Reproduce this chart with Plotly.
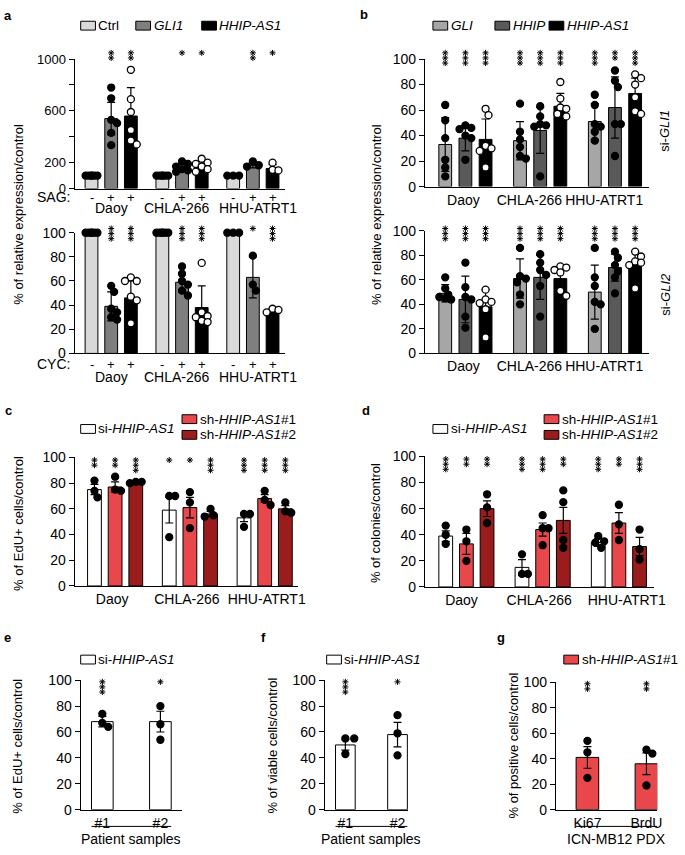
import plotly.graph_objects as go

W, H = 685, 855
FONT = "Liberation Sans, Arial, Helvetica, sans-serif"

# ---------------- data ----------------
cell_lines = ["Daoy", "CHLA-266", "HHU-ATRT1"]

# panel a (top: SAG, bottom: CYC); rows = cell line, cols = Ctrl / GLI1 / HHIP-AS1
a_series = ["Ctrl", "<i>GLI1</i>", "<i>HHIP-AS1</i>"]
a_signs = ["-", "+", "+"]
a_sag_mean = [[100, 540, 560], [100, 160, 175], [100, 180, 155]]
a_sag_err = [[0, 125, 220], [0, 30, 35], [0, 20, 30]]
a_sag_pts = [
    [[100] * 6, [780, 697, 530, 505, 430, 335], [917, 690, 591, 452, 371, 341]],
    [[100] * 6, [210, 190, 170, 150, 140, 130], [230, 200, 190, 170, 150, 130]],
    [[100] * 3, [210, 180, 170], [200, 145, 140]],
]
a_sag_stars = [["", "**", "**"], ["", "*", "*"], ["", "**", "*"]]

a_cyc_mean = [[100, 39, 46], [100, 59, 38], [100, 63, 35]]
a_cyc_err = [[0, 12, 14], [0, 8, 18], [0, 17, 2]]
a_cyc_pts = [
    [[100] * 6, [56, 51, 37, 34, 30, 28], [63, 60, 60, 47, 44, 25]],
    [[100] * 6, [72, 66, 60, 57, 52, 48], [75, 34, 31, 30, 27, 26]],
    [[100] * 3, [81, 57, 52], [37, 36, 34]],
]
a_cyc_stars = [["", "***", "***"], ["", "***", "***"], ["", "*", "***"]]

# panel b (top: si-GLI1, bottom: si-GLI2); cols = GLI / HHIP / HHIP-AS1
b_series = ["<i>GLI</i>", "<i>HHIP</i>", "<i>HHIP-AS1</i>"]
b1_mean = [[33, 38, 37], [36, 44, 63], [51, 62, 73]]
b1_err = [[21, 10, 16], [15, 18, 10], [14, 24, 12]]
b1_pts = [
    [[64, 52, 38, 21, 15, 8], [48, 46, 45, 40, 38, 21], [61, 56, 32, 30, 28, 15]],
    [[65, 43, 37, 31, 24, 22], [63, 55, 49, 48, 47, 8], [82, 69, 62, 61, 57, 55]],
    [[72, 64, 49, 47, 43, 36], [91, 83, 78, 49, 49, 24], [88, 85, 80, 70, 59, 57]],
]
b1_stars = [["***", "***", "***"], ["***", "***", "***"], ["***", "**", "***"]]

b2_mean = [[49, 44, 38], [61, 62, 61], [50, 70, 73]]
b2_err = [[7, 19, 14], [16, 18, 9], [22, 11, 10]]
b2_pts = [
    [[62, 53, 48, 46, 45, 44], [74, 54, 46, 44, 30, 21], [52, 44, 42, 41, 36, 13]],
    [[86, 63, 61, 58, 48, 40], [81, 74, 68, 64, 55, 30], [71, 70, 68, 66, 51, 47]],
    [[86, 62, 55, 42, 40, 20], [83, 78, 72, 67, 62, 49], [83, 79, 75, 74, 72, 53]],
]
b2_stars = [["***", "***", "***"], ["***", "***", "***"], ["***", "***", "***"]]

# panels c, d; cols = si-HHIP-AS1 / sh-HHIP-AS1#1 / sh-HHIP-AS1#2
cd_series = ["si-<i>HHIP-AS1</i>", "sh-<i>HHIP-AS1</i>#1", "sh-<i>HHIP-AS1</i>#2"]
c_mean = [[75, 77, 81], [59, 61, 56], [53, 68, 60]]
c_err = [[4, 4, 1], [10, 8, 2], [3, 3, 2.5]]
c_pts = [
    [[82, 74, 69], [85, 75, 74], [81, 81, 80]],
    [[70, 70, 38], [73, 65, 45], [60, 55, 54]],
    [[56, 56, 46], [74, 67, 63], [65, 58, 57]],
]
c_stars = [["**", "**", "***"], ["*", "*", "***"], ["***", "***", "***"]]

d_mean = [[39, 33, 60], [15, 44, 51], [34, 49, 31]]
d_err = [[4, 8, 6], [6, 5, 10], [3, 8, 7]]
d_pts = [
    [[47, 40, 33], [44, 35, 20], [71, 61, 49]],
    [[25, 10, 10], [55, 45, 45, 32], [74, 65, 36, 30]],
    [[39, 35, 34, 30], [63, 48, 36], [44, 29, 21]],
]
d_stars = [["***", "**", "**"], ["***", "***", "**"], ["***", "**", "***"]]

# panels e, f, g
ef_labels = ["#1", "#2"]
e_mean = [68, 68]
e_err = [4, 8]
e_pts = [[74, 67, 64], [80, 66, 54]]
e_stars = ["***", "*"]

f_mean = [50, 58]
f_err = [4, 9.5]
f_pts = [[55, 55, 43], [73, 59, 42]]
f_stars = ["***", "*"]

g_labels = ["Ki67", "BrdU"]
g_mean = [41, 36]
g_err = [8.5, 8.5]
g_pts = [[54, 45, 25], [47, 44, 19]]
g_stars = ["**", "**"]

ticks_0_100 = [0, 20, 40, 60, 80, 100]
a_sag_ticks = [0, 200, 400, 600, 800, 1000]
a_sag_ticktext = ["0", "200", "", "600", "", "1000"]

# ---------------- styling ----------------
a_colors = ["#d9d9d9", "#7f7f7f", "#000000"]
a_fills = ["#000000", "#000000", "#ffffff"]
b_colors = ["#a6a6a6", "#595959", "#000000"]
b_fills = ["#000000", "#000000", "#ffffff"]
cd_colors = ["#ffffff", "#e8474b", "#9b1c1c"]
cd_fills = ["#000000", "#000000", "#000000"]

fig = go.Figure()
layout = dict(width=W, height=H, margin=dict(l=0, r=0, t=0, b=0),
              paper_bgcolor="white", plot_bgcolor="rgba(0,0,0,0)", showlegend=False,
              barmode="overlay",
              font=dict(family=FONT, color="black", size=14))
annotations = []
shapes = []
count = [0]


def xp(px):
    return px / W


def yp(py):
    return 1 - py / H


def make_axes(px0, px1, py_top, py_bot, center0, unit, yrange, yticks, yticktext,
              tick_px=None, ticktext=None, ytf=14, xtf=14):
    count[0] += 1
    i = count[0]
    sfx = "" if i == 1 else str(i)
    xr, yr = "x" + sfx, "y" + sfx
    tickvals = None if tick_px is None else [(p - center0) / unit for p in tick_px]
    layout["xaxis" + sfx] = dict(
        domain=[xp(px0), xp(px1)], range=[(px0 - center0) / unit, (px1 - center0) / unit],
        anchor=yr, showline=True, linecolor="black", linewidth=1.3, ticks="",
        showgrid=False, zeroline=False, tickvals=tickvals, ticktext=ticktext,
        showticklabels=tick_px is not None,
        tickfont=dict(size=xtf, color="black"))
    layout["yaxis" + sfx] = dict(
        domain=[yp(py_bot), yp(py_top)], range=yrange, anchor=xr, showline=True,
        linecolor="black", linewidth=1.3, ticks="outside", ticklen=5, tickwidth=1.3,
        tickcolor="black", showgrid=False, zeroline=False, tickvals=yticks,
        ticktext=yticktext, tickfont=dict(size=ytf, color="black"))
    ppy = (py_bot - py_top) / (yrange[1] - yrange[0])
    # hidden companion y axis (same scale, taller) that carries the significance stars
    ext = 25
    ys = "y" + str(50 + i)
    layout["yaxis" + str(50 + i)] = dict(
        domain=[yp(py_bot), yp(py_top - ext)], range=[0, yrange[1] + ext / ppy],
        anchor=xr, visible=False, showgrid=False, zeroline=False)
    return dict(xr=xr, yr=yr, ys=ys, ppy=ppy, unit=unit, ytop=yrange[1], py_top=py_top,
                center0=center0)


def swarm(vals, ppy, half_w, dia=8):
    placed, offs = [], []
    cands = [0]
    k = 1
    while k * 3 <= half_w + 1:
        cands += [k * 3, -k * 3]
        k += 1
    for v in vals:
        y = v * ppy
        best, bestd = 0, -1
        for c in cands:
            d = min([((c - px) ** 2 + (y - py) ** 2) ** 0.5 for px, py in placed], default=1e9)
            if d >= dia * 0.85:
                best = c
                break
            if d > bestd:
                best, bestd = c, d
        placed.append((best, y))
        offs.append(best)
    return offs


def bars(ax, pos, means, errs, pts, color, fill, bw_px):
    unit = ax["unit"]
    fig.add_trace(go.Bar(
        x=pos, y=means, width=bw_px / unit, xaxis=ax["xr"], yaxis=ax["yr"],
        marker=dict(color=color, line=dict(color="black", width=1)),
        error_y=dict(type="data", array=errs, visible=any(e > 0 for e in errs),
                     color="black", thickness=1.2, width=4)))
    xs, ys = [], []
    for p, vals in zip(pos, pts):
        for o, v in zip(swarm(vals, ax["ppy"], bw_px / 2), vals):
            xs.append(p + o / unit)
            ys.append(v)
    fig.add_trace(go.Scatter(
        x=xs, y=ys, mode="markers", xaxis=ax["xr"], yaxis=ax["yr"], cliponaxis=False,
        marker=dict(size=7, color=fill, line=dict(color="black", width=1.3))))


def stars(ax, pos, labels, top_py):
    # significance asterisks stacked vertically above each bar
    xs, ys = [], []
    for p, s in zip(pos, labels):
        for k in range(len(s)):
            py = top_py + 2.7 + 5.2 * k
            xs.append(p)
            ys.append(ax["ytop"] - (py - ax["py_top"]) / ax["ppy"])
    fig.add_trace(go.Scatter(
        x=xs, y=ys, mode="markers", xaxis=ax["xr"], yaxis=ax["ys"], cliponaxis=False,
        marker=dict(symbol="asterisk-open", size=5, color="black",
                    line=dict(color="black", width=1))))


def grouped(ax, offset_px, bw_px, means, errs, pts, star_labels, colors, fills, star_py):
    nS = len(colors)
    positions = []
    for s in range(nS):
        pos = [g + (s - (nS - 1) / 2) * offset_px / ax["unit"] for g in range(len(means))]
        positions.append(pos)
        bars(ax, pos, [m[s] for m in means], [e[s] for e in errs],
             [p[s] for p in pts], colors[s], fills[s], bw_px)
        stars(ax, pos, [st[s] for st in star_labels], star_py)
    return positions


def text(x_px, y_px, t, size=14, anchor="center", angle=0, bold=False, xref="paper", x=None):
    if bold:
        t = "<b>" + t + "</b>"
    annotations.append(dict(xref=xref, yref="paper", x=xp(x_px) if x is None else x,
                            y=yp(y_px), text=t, xanchor=anchor, yanchor="middle",
                            textangle=angle, showarrow=False, font=dict(size=size)))


def legend_item(bx, by, label, color):
    shapes.append(dict(type="rect", xref="paper", yref="paper", x0=xp(bx), x1=xp(bx + 15),
                       y0=yp(by + 4.5), y1=yp(by - 4.5), fillcolor=color,
                       line=dict(color="black", width=1)))
    text(bx + 16, by, label, size=13.5, anchor="left")


# ---------------- panel a ----------------
u_a = 72
a_name_px = [113, 180, 262]
for (py_top, py_bot, yr_, yt, ytt, ytf, means, errs, pts, st, star_py, sign_lbl, sign_py,
     name_py) in [
    (52, 184, [0, 1000], a_sag_ticks, a_sag_ticktext, 13, a_sag_mean, a_sag_err, a_sag_pts,
     a_sag_stars, 43, "SAG:", 193, 204),
    (229, 352, [0, 100], ticks_0_100, [str(t) for t in ticks_0_100], 14, a_cyc_mean,
     a_cyc_err, a_cyc_pts, a_cyc_stars, 222, "CYC:", 363, 376),
]:
    ax = make_axes(76, 290, py_top, py_bot, 113, u_a, yr_, yt, ytt, ytf=ytf)
    pos = grouped(ax, 20, 13, means, errs, pts, st, a_colors, a_fills, star_py)
    for s, ps in enumerate(pos):
        for p in ps:
            text(0, sign_py, a_signs[s], size=13, xref=ax["xr"], x=p)
    for px, name in zip(a_name_px, cell_lines):
        text(px, name_py, name)
    text(73, sign_py, sign_lbl, anchor="right")

text(18, 210, "% of relative expression/control", size=13, angle=-90)
text(2, 8, "a", size=13, anchor="left", bold=True)
legend_item(82, 18, a_series[0], a_colors[0])
legend_item(138, 18, a_series[1], a_colors[1])
legend_item(205, 18, a_series[2], a_colors[2])

# ---------------- panel b ----------------
u_b = 76
b_name_px = [471, 538, 614]
ax = make_axes(432, 660, 52, 182, 473, u_b, [0, 100], ticks_0_100,
               [str(t) for t in ticks_0_100], b_name_px, cell_lines)
grouped(ax, 20.5, 13, b1_mean, b1_err, b1_pts, b1_stars, b_colors, b_fills, 43)
ax = make_axes(432, 660, 227, 352, 473, u_b, [0, 100], ticks_0_100,
               [str(t) for t in ticks_0_100], b_name_px, cell_lines)
grouped(ax, 20.5, 13, b2_mean, b2_err, b2_pts, b2_stars, b_colors, b_fills, 222)
text(382, 210, "% of relative expression/control", size=13, angle=-90)
text(676, 125, "si-<i>GLI1</i>", size=13, angle=-90)
text(676, 292, "si-<i>GLI2</i>", size=13, angle=-90)
text(364, 7, "b", size=13, anchor="left", bold=True)
legend_item(440, 18, b_series[0], b_colors[0])
legend_item(503, 18, b_series[1], b_colors[1])
legend_item(558, 18, b_series[2], b_colors[2])

# ---------------- panel c ----------------
ax = make_axes(76, 303, 458, 589, 117, 76, [0, 100], ticks_0_100,
               [str(t) for t in ticks_0_100], [114, 190, 271], cell_lines)
grouped(ax, 21, 14, c_mean, c_err, c_pts, c_stars, cd_colors, cd_fills, 458)
text(18, 525, "% of EdU+ cells/control", size=13, angle=-90)
text(3, 410, "c", size=13, anchor="left", bold=True)
legend_item(82, 429, cd_series[0], cd_colors[0])
legend_item(185, 419, cd_series[1], cd_colors[1])
legend_item(185, 435, cd_series[2], cd_colors[2])

# ---------------- panel d ----------------
ax = make_axes(432, 665, 457, 590, 474, 77.5, [0, 100], ticks_0_100,
               [str(t) for t in ticks_0_100], [469, 548, 637], cell_lines)
grouped(ax, 21, 14, d_mean, d_err, d_pts, d_stars, cd_colors, cd_fills, 457)
text(381, 525, "% of colonies/control", size=13, angle=-90)
text(366, 410, "d", size=13, anchor="left", bold=True)
legend_item(440, 429, cd_series[0], cd_colors[0])
legend_item(553, 419, cd_series[1], cd_colors[1])
legend_item(553, 435, cd_series[2], cd_colors[2])


# ---------------- panels e, f, g ----------------
def two_bar(px0, px1, top, center0, unit, bw, means, errs, pts, star_labels, labels, color,
            ytitle, ytitle_x, group_label, letter, letter_x, leg_x, leg_label):
    ax = make_axes(px0, px1, top, 817, center0, unit, [0, 100], ticks_0_100,
                   [str(t) for t in ticks_0_100], [center0, center0 + unit], labels)
    pos = [0, 1]
    bars(ax, pos, means, errs, pts, color, "#000000", bw)
    stars(ax, pos, star_labels, top - 1)
    half = bw / 2 / unit
    shapes.append(dict(type="line", xref=ax["xr"], yref="paper", x0=pos[0] - half,
                       x1=pos[1] + half, y0=yp(834), y1=yp(834),
                       line=dict(color="black", width=1)))
    text(0, 847, group_label, xref=ax["xr"], x=(pos[0] + pos[1]) / 2)
    text(ytitle_x, 752, ytitle, size=13, angle=-90)
    text(letter_x, 642, letter, size=13, anchor="left", bold=True)
    legend_item(leg_x, 664, leg_label, color)


two_bar(82, 185, 685, 104, 59, 22, e_mean, e_err, e_pts, e_stars, ef_labels, "#ffffff",
        "% of EdU+ cells/control", 18, "Patient samples", "e", 2, 82, cd_series[0])
two_bar(330, 415, 685, 351, 53, 20, f_mean, f_err, f_pts, f_stars, ef_labels, "#ffffff",
        "% of viable cells/control", 277, "Patient samples", "f", 263, 332, cd_series[0])
two_bar(565, 668, 687, 597, 60, 23, g_mean, g_err, g_pts, g_stars, g_labels, "#e8474b",
        "% of positive cells/control", 522, "ICN-MB12 PDX", "g", 503, 573, cd_series[1])

layout["annotations"] = annotations
layout["shapes"] = shapes
fig.update_layout(**layout)
fig.write_html("out.html", config={"displayModeBar": False},
               post_script="document.body.style.margin='0';"
                           "document.body.style.overflow='hidden';")
